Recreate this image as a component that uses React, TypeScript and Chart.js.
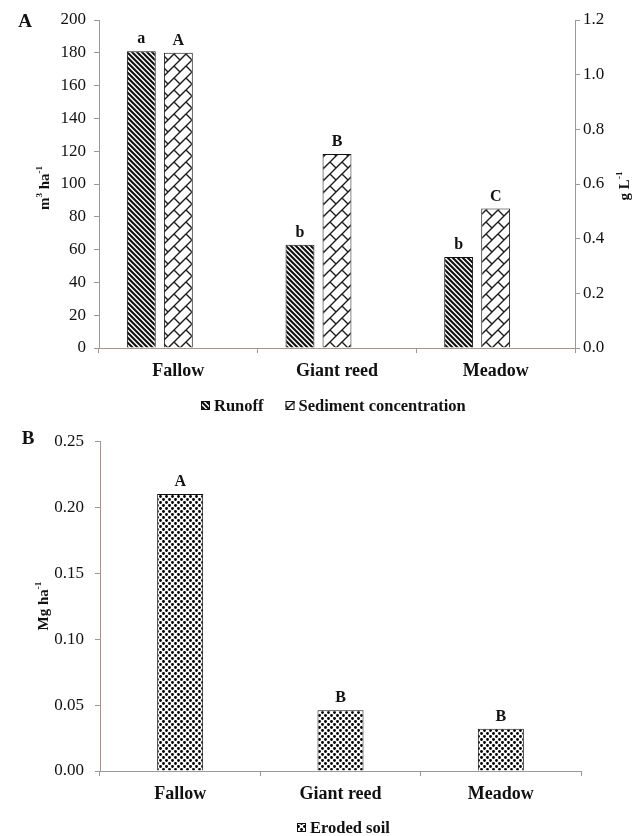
import React, { useEffect, useRef } from 'react';
import { Chart, registerables } from 'chart.js';

Chart.register(...registerables);

// ---------- data ----------
const categories = ['Fallow', 'Giant reed', 'Meadow'];
const runoff = [181, 63, 55.5]; // m3 ha-1
const sedimentConcentration = [1.08, 0.71, 0.51]; // g L-1
const erodedSoil = [0.21, 0.046, 0.032]; // Mg ha-1
const runoffLetters = ['a', 'b', 'b'];
const sedimentLetters = ['A', 'B', 'C'];
const erodedLetters = ['A', 'B', 'B'];
const runoffAxis = { min: 0, max: 200, step: 20 };
const concAxis = { min: 0, max: 1.2, step: 0.2 };
const erodedAxis = { min: 0, max: 0.25, step: 0.05 };

const SERIF = '"Liberation Serif", "Times New Roman", serif';
const AXIS = '#a3958f';
const INK = '#111';

// ---------- patterns ----------
function tile(size: number, draw: (g: CanvasRenderingContext2D, s: number) => void): CanvasPattern {
  const c = document.createElement('canvas');
  c.width = size;
  c.height = size;
  const g = c.getContext('2d')!;
  g.fillStyle = '#fff';
  g.fillRect(0, 0, size, size);
  draw(g, size);
  const ctx = document.createElement('canvas').getContext('2d')!;
  return ctx.createPattern(c, 'repeat')!;
}

function stripePattern() {
  return tile(5, (g, s) => {
    g.strokeStyle = INK;
    g.lineWidth = 2.1;
    g.beginPath();
    g.moveTo(-1, -1); g.lineTo(s + 1, s + 1);
    g.moveTo(-1, s - 1); g.lineTo(1, s + 1);
    g.moveTo(s - 1, -1); g.lineTo(s + 1, 1);
    g.stroke();
  });
}

function brickPattern() {
  return tile(12, (g, s) => {
    g.strokeStyle = '#1a1a1a';
    g.lineWidth = 1.4;
    g.lineCap = 'round';
    g.beginPath();
    g.moveTo(-1, s + 1); g.lineTo(s + 1, -1);
    g.moveTo(-1, 1); g.lineTo(1, -1);
    g.moveTo(s - 1, s + 1); g.lineTo(s + 1, s - 1);
    g.moveTo(s / 2, s / 2); g.lineTo(s, s);
    g.stroke();
  });
}

function dotPattern() {
  return tile(6, (g) => {
    g.fillStyle = '#000';
    g.beginPath();
    g.arc(1.5, 1.5, 1.45, 0, Math.PI * 2);
    g.closePath();
    g.moveTo(6, 4.5);
    g.arc(4.5, 4.5, 1.45, 0, Math.PI * 2);
    g.closePath();
    g.fill();
  });
}

// ---------- drawing helpers ----------
type Seg = [string, boolean];
function drawRotatedRich(ctx: CanvasRenderingContext2D, segs: Seg[], cx: number, cy: number, size: number) {
  ctx.save();
  ctx.translate(cx, cy);
  ctx.rotate(-Math.PI / 2);
  const base = `bold ${size}px ${SERIF}`;
  const sup = `bold ${Math.round(size * 0.62)}px ${SERIF}`;
  let total = 0;
  for (const [t, s] of segs) {
    ctx.font = s ? sup : base;
    total += ctx.measureText(t).width;
  }
  let x = -total / 2;
  ctx.fillStyle = INK;
  ctx.textBaseline = 'middle';
  ctx.textAlign = 'left';
  for (const [t, s] of segs) {
    ctx.font = s ? sup : base;
    ctx.fillText(t, x, s ? -size * 0.33 : 0);
    x += ctx.measureText(t).width;
  }
  ctx.restore();
}

function drawLegend(ctx: CanvasRenderingContext2D, items: { label: string; fill: CanvasPattern }[], centerX: number, cy: number) {
  ctx.save();
  ctx.font = `bold 16.5px ${SERIF}`;
  const box = 9, gapText = 4, gapItem = 22;
  let total = 0;
  items.forEach((it, i) => {
    total += box + gapText + ctx.measureText(it.label).width + (i < items.length - 1 ? gapItem : 0);
  });
  let x = Math.round(centerX - total / 2);
  for (const it of items) {
    ctx.fillStyle = it.fill;
    ctx.fillRect(x, cy - 5, box, box);
    ctx.strokeStyle = INK;
    ctx.lineWidth = 1;
    ctx.strokeRect(x + 0.5, cy - 4.5, box - 1, box - 1);
    ctx.fillStyle = INK;
    ctx.textBaseline = 'middle';
    ctx.textAlign = 'left';
    ctx.fillText(it.label, x + box + gapText, cy + 1);
    x += box + gapText + ctx.measureText(it.label).width + gapItem;
  }
  ctx.restore();
}

function drawLetters(chart: any, datasetIndex: number, letters: string[]) {
  const ctx: CanvasRenderingContext2D = chart.ctx;
  const meta = chart.getDatasetMeta(datasetIndex);
  ctx.save();
  ctx.font = `bold 16px ${SERIF}`;
  ctx.fillStyle = INK;
  ctx.textAlign = 'center';
  ctx.textBaseline = 'alphabetic';
  meta.data.forEach((el: any, j: number) => {
    if (letters[j]) ctx.fillText(letters[j], el.x, el.y - 8);
  });
  ctx.restore();
}

function axisScale(extra: any) {
  return {
    grid: { drawOnChartArea: false, drawTicks: true, tickLength: 5, color: AXIS, lineWidth: 1 },
    border: { color: AXIS, width: 1 },
    ...extra,
  };
}

const tickFont = { family: SERIF, size: 17, weight: 'normal' as const };
const catFont = { family: SERIF, size: 18, weight: 'bold' as const };

function ChartA() {
  const ref = useRef<HTMLCanvasElement>(null);
  useEffect(() => {
    const stripes = stripePattern();
    const bricks = brickPattern();
    const plugin = {
      id: 'decorA',
      afterDatasetsDraw(chart: any) {
        drawLetters(chart, 0, runoffLetters);
        drawLetters(chart, 1, sedimentLetters);
      },
      afterDraw(chart: any) {
        const ctx: CanvasRenderingContext2D = chart.ctx;
        const a = chart.chartArea;
        ctx.save();
        ctx.font = `bold 19px ${SERIF}`;
        ctx.fillStyle = INK;
        ctx.textAlign = 'center';
        ctx.textBaseline = 'middle';
        ctx.fillText('A', 25, 22);
        ctx.restore();
        const midY = (a.top + a.bottom) / 2;
        drawRotatedRich(ctx, [['m', false], ['3', true], [' ha', false], ['-1', true]], 45, midY + 4, 15);
        drawRotatedRich(ctx, [['g L', false], ['-1', true]], 625, midY + 2, 15);
        drawLegend(ctx, [
          { label: 'Runoff', fill: stripes },
          { label: 'Sediment concentration', fill: bricks },
        ], (a.left + a.right) / 2 - 4, a.bottom + 58);
      },
    };
    const chart = new Chart(ref.current!, {
      type: 'bar',
      data: {
        labels: categories,
        datasets: [
          { label: 'Runoff', data: runoff, yAxisID: 'y', backgroundColor: stripes, borderColor: INK, borderWidth: 1, categoryPercentage: 0.7, barPercentage: 0.78 },
          { label: 'Sediment concentration', data: sedimentConcentration, yAxisID: 'y2', backgroundColor: bricks, borderColor: INK, borderWidth: 1, categoryPercentage: 0.7, barPercentage: 0.78 },
          { label: '', data: categories.map(() => null), yAxisID: 'y', backgroundColor: 'transparent', categoryPercentage: 0.7, barPercentage: 0.78 },
        ],
      } as any,
      options: {
        animation: false,
        responsive: false,
        layout: { padding: { top: 20, left: 0, right: 0, bottom: 0 } },
        plugins: { legend: { display: false }, tooltip: { enabled: false } },
        scales: {
          x: axisScale({
            type: 'category',
            ticks: { font: catFont, color: INK, padding: 8, maxRotation: 0 },
            afterFit: (s: any) => { s.height = 72; },
          }),
          y: axisScale({
            position: 'left',
            min: runoffAxis.min, max: runoffAxis.max,
            ticks: { stepSize: runoffAxis.step, font: tickFont, color: INK, padding: 8 },
            afterFit: (s: any) => { s.width = 99; },
          }),
          y2: axisScale({
            position: 'right',
            min: concAxis.min, max: concAxis.max,
            ticks: { stepSize: concAxis.step, font: tickFont, color: INK, padding: 3, callback: (v: any) => Number(v).toFixed(1) },
            afterFit: (s: any) => { s.width = 67; },
          }),
        },
      } as any,
      plugins: [plugin],
    });
    return () => chart.destroy();
  }, []);
  return <canvas ref={ref} width={642} height={420} style={{ display: 'block', position: 'absolute', left: 0, top: 0 }} />;
}

function ChartB() {
  const ref = useRef<HTMLCanvasElement>(null);
  useEffect(() => {
    const dots = dotPattern();
    const plugin = {
      id: 'decorB',
      afterDatasetsDraw(chart: any) {
        drawLetters(chart, 0, erodedLetters);
      },
      afterDraw(chart: any) {
        const ctx: CanvasRenderingContext2D = chart.ctx;
        const a = chart.chartArea;
        ctx.save();
        ctx.font = `bold 19px ${SERIF}`;
        ctx.fillStyle = INK;
        ctx.textAlign = 'center';
        ctx.textBaseline = 'middle';
        ctx.fillText('B', 28, 19);
        ctx.restore();
        drawRotatedRich(ctx, [['Mg ha', false], ['-1', true]], 44, (a.top + a.bottom) / 2, 15);
        drawLegend(ctx, [{ label: 'Eroded soil', fill: dots }], (a.left + a.right) / 2 + 3, a.bottom + 57);
      },
    };
    const chart = new Chart(ref.current!, {
      type: 'bar',
      data: {
        labels: categories,
        datasets: [
          { label: 'Eroded soil', data: erodedSoil, backgroundColor: dots, borderColor: INK, borderWidth: 1, categoryPercentage: 1, barPercentage: 0.287 },
        ],
      } as any,
      options: {
        animation: false,
        responsive: false,
        layout: { padding: { top: 18, left: 0, right: 61, bottom: 0 } },
        plugins: { legend: { display: false }, tooltip: { enabled: false } },
        scales: {
          x: axisScale({
            type: 'category',
            ticks: { font: catFont, color: INK, padding: 8, maxRotation: 0 },
            afterFit: (s: any) => { s.height = 65; },
          }),
          y: axisScale({
            position: 'left',
            min: erodedAxis.min, max: erodedAxis.max,
            ticks: { stepSize: erodedAxis.step, font: tickFont, color: INK, padding: 11, callback: (v: any) => Number(v).toFixed(2) },
            afterFit: (s: any) => { s.width = 100; },
          }),
        },
      } as any,
      plugins: [plugin],
    });
    return () => chart.destroy();
  }, []);
  return <canvas ref={ref} width={642} height={416} style={{ display: 'block', position: 'absolute', left: 0, top: 420 }} />;
}

export default function App() {
  return (
    <div style={{ position: 'absolute', left: 0, top: 0, width: 642, height: 836, background: '#fff', overflow: 'hidden' }}>
      <ChartA />
      <ChartB />
    </div>
  );
}
